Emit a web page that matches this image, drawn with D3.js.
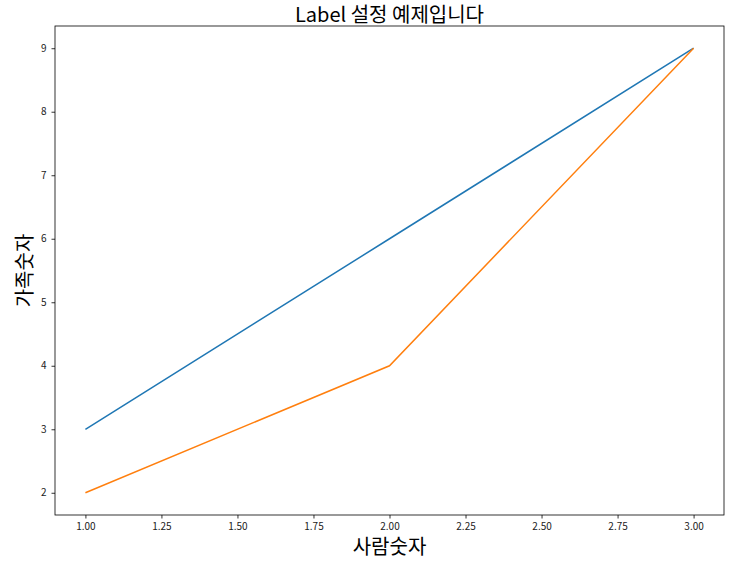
<!DOCTYPE html>
<html><head><meta charset="utf-8">
<script src="https://cdn.jsdelivr.net/npm/d3@7"></script>
<style>body{margin:0;background:#fff}</style>
</head><body>
<svg id="c" width="740" height="561"></svg>
<script>
const people = [1, 2, 3];
const seriesA = [3, 6, 9];
const seriesB = [2, 4, 9];
const xTicks = [1.00, 1.25, 1.50, 1.75, 2.00, 2.25, 2.50, 2.75, 3.00];
const yTicks = [2, 3, 4, 5, 6, 7, 8, 9];
const titleText = "Label 설정 예제입니다";
const xLabel = "사람숫자";
const yLabel = "가족숫자";

const svg = d3.select("#c");
const L = 55, R = 724, T = 26, B = 515;
const font = "'Noto Sans CJK KR', 'Noto Sans', sans-serif";
const x = d3.scaleLinear().domain([0.9, 3.1]).range([L, R]);
const y = d3.scaleLinear().domain([1.65, 9.35]).range([B, T]);

const line = d3.line().x((d, i) => x(people[i])).y(d => y(d));
svg.append("path").datum(seriesA).attr("d", line).attr("fill", "none").attr("stroke", "#1f77b4").attr("stroke-width", 1.5);
svg.append("path").datum(seriesB).attr("d", line).attr("fill", "none").attr("stroke", "#ff7f0e").attr("stroke-width", 1.5);

const xa = svg.append("g").attr("transform", `translate(0,${B})`)
  .call(d3.axisBottom(x).tickValues(xTicks).tickFormat(d3.format(".2f")).tickSizeOuter(0).tickSize(3.5).tickPadding(4));
const ya = svg.append("g").attr("transform", `translate(${L},0)`)
  .call(d3.axisLeft(y).tickValues(yTicks).tickFormat(d3.format("d")).tickSizeOuter(0).tickSize(3.5).tickPadding(5));
[xa, ya].forEach(a => {
  a.select(".domain").remove();
  a.selectAll("line").attr("stroke", "#000").attr("stroke-width", 0.8);
  a.selectAll("text").attr("font-family", font).attr("font-size", 10).attr("fill", "#222");
});

svg.append("rect").attr("x", L).attr("y", T).attr("width", R - L).attr("height", B - T)
  .attr("fill", "none").attr("stroke", "#000").attr("stroke-width", 0.8);

svg.append("text").attr("x", (L + R) / 2).attr("y", 21.5).attr("text-anchor", "middle")
  .attr("font-family", font).attr("font-size", 20).text(titleText);
svg.append("text").attr("x", (L + R) / 2).attr("y", 553.5).attr("text-anchor", "middle")
  .attr("font-family", font).attr("font-size", 20).text(xLabel);
svg.append("text").attr("transform", `translate(32,${(T + B) / 2}) rotate(-90)`).attr("text-anchor", "middle")
  .attr("font-family", font).attr("font-size", 20).text(yLabel);
</script>
</body></html>
